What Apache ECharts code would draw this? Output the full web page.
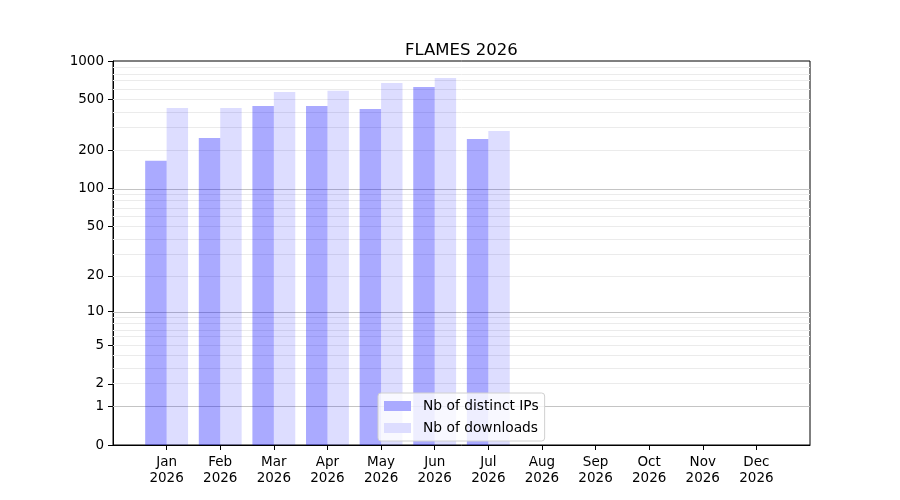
<!DOCTYPE html>
<html>
<head>
<meta charset="utf-8">
<script src="https://cdn.jsdelivr.net/npm/echarts@6/dist/echarts.min.js"></script>
<style>html,body{margin:0;padding:0;background:#fff}#c{width:900px;height:500px}</style>
</head>
<body>
<div id="c"></div>
<script>
const months = ['Jan','Feb','Mar','Apr','May','Jun','Jul','Aug','Sep','Oct','Nov','Dec'];
const year = '2026';
const distinctIPs = [165, 249, 444, 444, 421, 626, 245];
const downloads = [429, 429, 572, 586, 673, 736, 283];
const yTicks = [0, 1, 2, 5, 10, 20, 50, 100, 200, 500, 1000];
const majorGrid = [1, 10, 100];
const minorGrid = [2,3,4,5,6,7,8,9,20,30,40,50,60,70,80,90,200,300,400,500,600,700,800,900];

const T = v => Math.log10(v + 1);
const INV = t => Math.round(Math.pow(10, t) - 1);
const FONT = 'DejaVu Sans';

function barSeries(name, values, offset, color, legendColor) {
  return {
    name: name,
    type: 'custom',
    z: 3,
    itemStyle: { color: legendColor },
    encode: { x: 0, y: 1 },
    data: values.map((v, i) => [i, T(v)]),
    renderItem: function (params, api) {
      const i = api.value(0), v = api.value(1);
      const p1 = api.coord([i + offset, v]);
      const p2 = api.coord([i + offset + 0.4, 0]);
      return {
        type: 'rect',
        shape: { x: p1[0], y: p1[1], width: p2[0] - p1[0], height: p2[1] - p1[1] },
        style: { fill: color }
      };
    }
  };
}

const gridSeries = {
  name: 'grid',
  type: 'line',
  data: [],
  silent: true,
  z: 1,
  markLine: {
    z: 1,
    silent: true,
    symbol: ['none', 'none'],
    label: { show: false },
    animation: false,
    data: minorGrid.map(v => ({ yAxis: T(v), lineStyle: { color: '#ebebeb', width: 1, type: 'solid' } }))
      .concat(majorGrid.map(v => ({ yAxis: T(v), lineStyle: { color: '#c4c4c4', width: 1, type: 'solid' } })))
  }
};

const chart = echarts.init(document.getElementById('c'), null, { renderer: 'canvas' });
chart.setOption({
  animation: false,
  backgroundColor: '#fff',
  textStyle: { fontFamily: FONT },
  title: {
    text: 'FLAMES ' + year,
    left: 400, top: 37,
    textStyle: { fontFamily: FONT, fontSize: 16.5, fontWeight: 'normal', color: '#000' }
  },
  grid: { left: 113, right: 90, top: 61, bottom: 55, show: true, borderColor: '#000', borderWidth: 1, backgroundColor: 'transparent' },
  legend: {
    z: 10,
    orient: 'vertical',
    left: 378, top: 393,
    data: ['Nb of distinct IPs', 'Nb of downloads'],
    icon: 'rect',
    itemWidth: 27, itemHeight: 10, itemGap: 8,
    backgroundColor: 'rgba(255,255,255,0.8)',
    borderColor: '#d0d0d0', borderWidth: 1, borderRadius: 3,
    padding: [6, 6, 6, 6],
    textStyle: { fontFamily: FONT, fontSize: 13.8, color: '#000', padding: [0, 0, 0, 7] }
  },
  xAxis: {
    type: 'value', min: -1, max: 12, interval: 1,
    axisLine: { show: true, onZero: false, lineStyle: { color: '#000' } },
    axisTick: { show: true, inside: false, length: 5, lineStyle: { color: '#000' }, customValues: months.map((m, i) => i) },
    axisLabel: {
      show: true, margin: 9, color: '#000', fontFamily: FONT, fontSize: 13.5, lineHeight: 16,
      customValues: months.map((m, i) => i),
      formatter: v => (v >= 0 && v < months.length) ? months[v] + '\n' + year : ''
    },
    splitLine: { show: false }
  },
  yAxis: {
    type: 'value', min: 0, max: T(1000),
    axisLine: { show: true, onZero: false, lineStyle: { color: '#000' } },
    axisTick: { show: true, inside: false, length: 5, lineStyle: { color: '#000' }, customValues: yTicks.map(T) },
    axisLabel: {
      show: true, margin: 9, color: '#000', fontFamily: FONT, fontSize: 13.5,
      customValues: yTicks.map(T),
      formatter: v => String(INV(v))
    },
    splitLine: { show: false }
  },
  series: [
    barSeries('Nb of distinct IPs', distinctIPs, -0.4, 'rgba(0,0,255,0.333)', '#aaaaff'),
    barSeries('Nb of downloads', downloads, 0, 'rgba(0,0,255,0.133)', '#ddddff'),
    gridSeries
  ]
});
</script>
</body>
</html>
